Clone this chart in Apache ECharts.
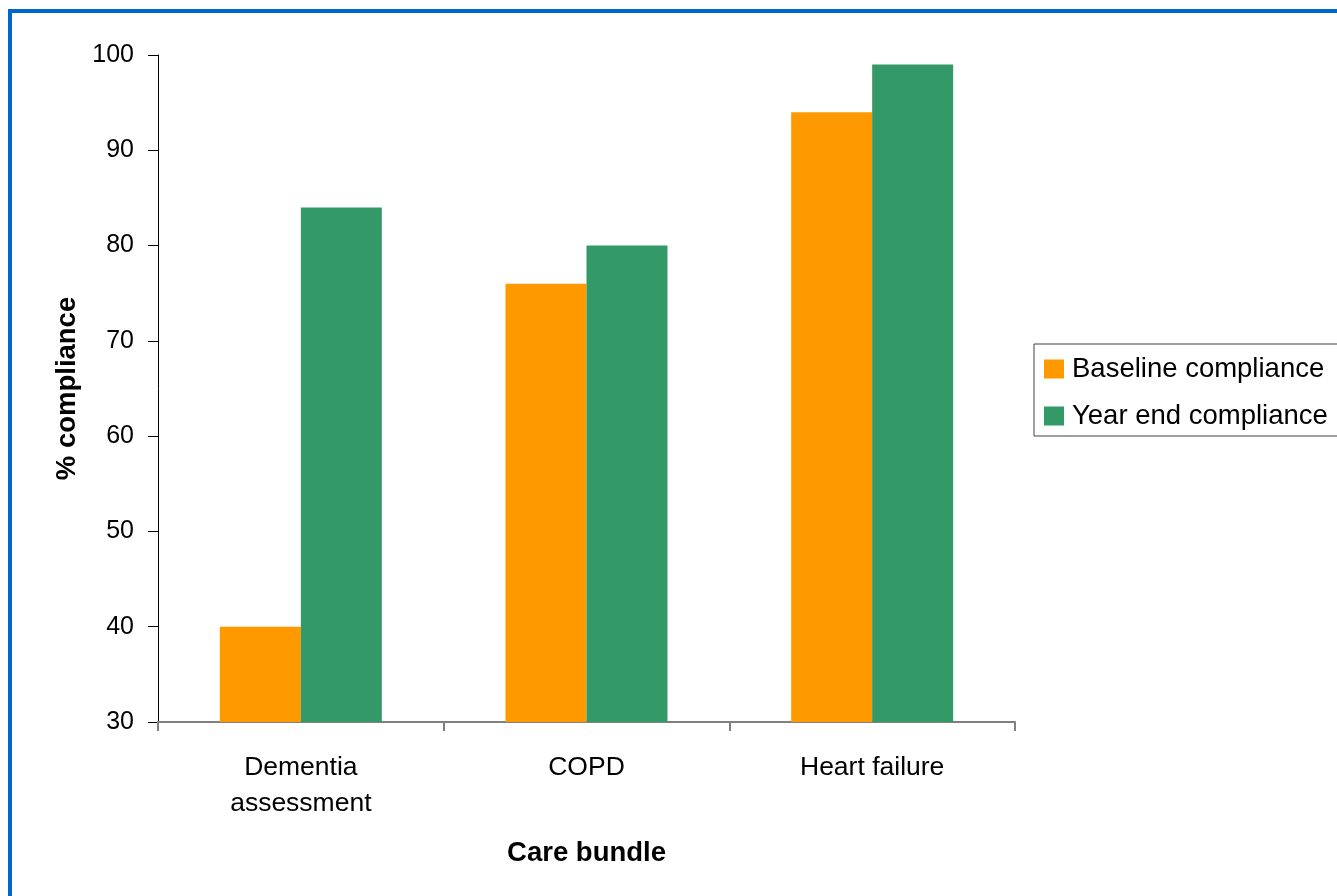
<!DOCTYPE html>
<html>
<head>
<meta charset="utf-8">
<title>Care bundle compliance</title>
<script src="https://cdn.jsdelivr.net/npm/echarts@6/dist/echarts.min.js"></script>
<style>
  html, body { margin: 0; padding: 0; background: #ffffff; }
  #chart { width: 1337px; height: 896px; }
</style>
</head>
<body>
<div id="chart"></div>
<script>
// Care bundles on the category axis
const categories = ['Dementia\nassessment', 'COPD', 'Heart failure'];

// % compliance at baseline and at year end
const baselineCompliance = [40, 76, 94];
const yearEndCompliance = [84, 80, 99];

const seriesNames = ['Baseline compliance', 'Year end compliance'];

const FONT = '"Liberation Sans", Arial, sans-serif';

const chart = echarts.init(document.getElementById('chart'), null, { renderer: 'canvas' });

chart.setOption({
  backgroundColor: '#ffffff',
  animation: false,
  textStyle: { fontFamily: FONT },
  graphic: [
    {
      // blue frame around the whole chart
      type: 'rect',
      silent: true,
      z: 100,
      shape: { x: 10, y: 11, width: 2000, height: 2000 },
      style: { fill: 'none', stroke: '#0066CC', lineWidth: 4 }
    }
  ],
  grid: {
    left: 158,
    top: 55,
    right: 322,
    bottom: 174,
    containLabel: false
  },
  legend: {
    orient: 'vertical',
    left: 1034,
    top: 344,
    padding: [11, 40, 6, 10],
    itemGap: 19,
    itemWidth: 20,
    itemHeight: 19,
    icon: 'rect',
    borderColor: '#404040',
    borderWidth: 1,
    borderRadius: 0,
    backgroundColor: '#ffffff',
    textStyle: {
      fontFamily: FONT,
      fontSize: 27.5,
      color: '#000000',
      lineHeight: 26,
      padding: [0, 0, 0, 3]
    },
    data: seriesNames
  },
  xAxis: {
    type: 'category',
    data: categories,
    name: 'Care bundle',
    nameLocation: 'middle',
    nameGap: 117,
    nameTextStyle: { fontFamily: FONT, fontSize: 27.5, fontWeight: 'bold', color: '#000000' },
    axisLine: { lineStyle: { color: '#808080', width: 2 } },
    axisTick: { show: true, length: 9, alignWithLabel: false, lineStyle: { color: '#808080', width: 2 } },
    axisLabel: {
      fontFamily: FONT,
      fontSize: 26.5,
      color: '#000000',
      lineHeight: 36,
      margin: 28,
      interval: 0
    },
    splitLine: { show: false }
  },
  yAxis: {
    type: 'value',
    min: 30,
    max: 100,
    interval: 10,
    name: '% compliance',
    nameLocation: 'middle',
    nameGap: 76,
    nameTextStyle: { fontFamily: FONT, fontSize: 27.5, fontWeight: 'bold', color: '#000000' },
    axisLine: { show: true, lineStyle: { color: '#000000', width: 1 } },
    axisTick: { show: true, length: 10, lineStyle: { color: '#000000', width: 1 } },
    axisLabel: {
      fontFamily: FONT,
      fontSize: 25,
      color: '#000000',
      margin: 24
    },
    splitLine: { show: false }
  },
  series: [
    {
      name: seriesNames[0],
      type: 'bar',
      data: baselineCompliance,
      itemStyle: { color: '#FF9900' },
      barGap: '0%',
      barCategoryGap: '43.3%'
    },
    {
      name: seriesNames[1],
      type: 'bar',
      data: yearEndCompliance,
      itemStyle: { color: '#339966' },
      barGap: '0%',
      barCategoryGap: '43.3%'
    }
  ]
});
</script>
</body>
</html>
